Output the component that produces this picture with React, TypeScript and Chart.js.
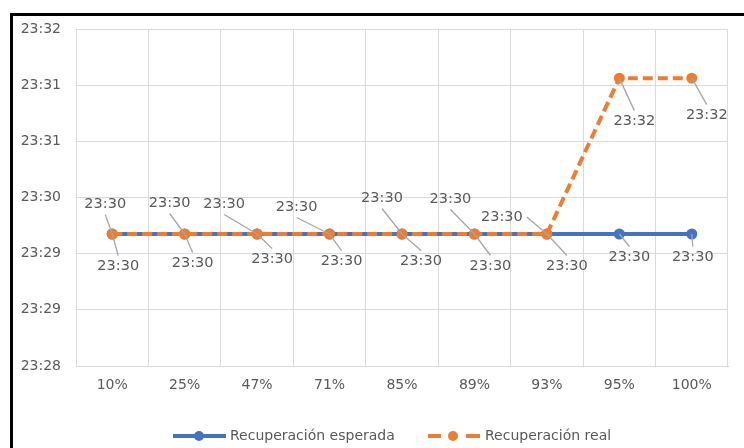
import React, { useEffect, useRef } from 'react';
import { Chart, registerables } from 'chart.js';

Chart.register(...registerables);

// ---------- data ----------
const categories = ['10%', '25%', '47%', '71%', '85%', '89%', '93%', '95%', '100%'];
const expectedTimes = ['23:29:54', '23:29:54', '23:29:54', '23:29:54', '23:29:54', '23:29:54', '23:29:54', '23:29:54', '23:29:54'];
const actualTimes = ['23:29:54', '23:29:54', '23:29:54', '23:29:54', '23:29:54', '23:29:54', '23:29:54', '23:31:45', '23:31:45'];
const yTickLabels = ['23:28', '23:29', '23:29', '23:30', '23:31', '23:31', '23:32'];
const yStartTime = '23:28:20';
const yStepSeconds = 40;
const seriesNames = ['Recuperación esperada', 'Recuperación real'];

// ---------- helpers ----------
const toSec = (s: string) => {
  const [h, m, sec] = s.split(':').map(Number);
  return h * 3600 + m * 60 + (sec || 0);
};
const fmtTime = (v: number) => {
  const mins = Math.round(v / 60);
  const h = Math.floor(mins / 60) % 24;
  const m = mins % 60;
  return `${h}:${String(m).padStart(2, '0')}`;
};

const FONT = '"DejaVu Sans", "Open Sans", sans-serif';
const TEXT_COLOR = '#595959';
const BLUE = '#4472C4';
const ORANGE = '#ED7D31';

// label offsets (style/position config, pixels relative to the point)
const labelOffsets: Record<number, [number, number][]> = {
  0: [[-7, -30], [-15, -31], [-33, -30], [-33, -27], [-20, -36], [-24, -35], [-45, -17], [15, 43], [15, 37]],
  1: [[6, 32], [8, 29], [15, 25], [12, 27], [19, 27], [16, 32], [20, 32], [10, 23], [1, 23]],
};

const dataLabelPlugin = {
  id: 'excelDataLabels',
  afterDatasetsDraw(chart: any) {
    const ctx = chart.ctx;
    ctx.save();
    ctx.font = `14.5px ${FONT}`;
    ctx.textAlign = 'center';
    ctx.textBaseline = 'middle';
    chart.data.datasets.forEach((ds: any, di: number) => {
      const meta = chart.getDatasetMeta(di);
      const offs = labelOffsets[di];
      meta.data.forEach((pt: any, i: number) => {
        const [dx, dy] = offs[i];
        const text = fmtTime(ds.data[i]);
        const cx = pt.x + dx;
        const cy = pt.y + dy;
        const w = ctx.measureText(text).width;
        const h = 13;
        let ax: number, ay: number;
        if (Math.abs(dy) >= Math.abs(dx) * 0.6) {
          ax = cx;
          ay = cy + (dy < 0 ? h / 2 + 4 : -(h / 2 + 4));
        } else {
          ax = cx + (dx < 0 ? w / 2 + 4 : -(w / 2 + 4));
          ay = cy;
        }
        const dist = Math.hypot(pt.x - ax, pt.y - ay);
        if (dist > 4) {
          ctx.strokeStyle = '#a6a6a6';
          ctx.lineWidth = 1.3;
          ctx.beginPath();
          ctx.moveTo(ax, ay);
          ctx.lineTo(pt.x, pt.y);
          ctx.stroke();
        }
        ctx.fillStyle = TEXT_COLOR;
        ctx.fillText(text, cx, cy);
      });
    });
    ctx.restore();
  },
};

const legendPlugin = {
  id: 'excelLegend',
  afterDraw(chart: any) {
    const ctx = chart.ctx;
    const y = 436;
    ctx.save();
    // blue
    ctx.strokeStyle = BLUE;
    ctx.lineWidth = 4;
    ctx.beginPath();
    ctx.moveTo(173, y);
    ctx.lineTo(226, y);
    ctx.stroke();
    ctx.fillStyle = BLUE;
    ctx.beginPath();
    ctx.arc(199, y, 5, 0, Math.PI * 2);
    ctx.fill();
    // orange
    ctx.strokeStyle = ORANGE;
    ctx.beginPath();
    ctx.moveTo(428, y);
    ctx.lineTo(441, y);
    ctx.moveTo(466, y);
    ctx.lineTo(480, y);
    ctx.stroke();
    ctx.fillStyle = ORANGE;
    ctx.beginPath();
    ctx.arc(453, y, 5, 0, Math.PI * 2);
    ctx.fill();
    ctx.font = `14px ${FONT}`;
    ctx.fillStyle = TEXT_COLOR;
    ctx.textAlign = 'left';
    ctx.textBaseline = 'middle';
    ctx.fillText(seriesNames[0], 230, y);
    ctx.fillText(seriesNames[1], 485, y);
    ctx.restore();
  },
};

export default function App() {
  const ref = useRef<HTMLCanvasElement | null>(null);

  useEffect(() => {
    if (!ref.current) return;
    const yMin = toSec(yStartTime);
    const yMax = yMin + yStepSeconds * (yTickLabels.length - 1);
    const chart = new Chart(ref.current, {
      type: 'line',
      data: {
        labels: categories,
        datasets: [
          {
            label: seriesNames[1],
            data: actualTimes.map(toSec),
            borderColor: ORANGE,
            backgroundColor: ORANGE,
            borderWidth: 4,
            borderDash: [10, 5],
            pointRadius: 5.5,
            pointBorderWidth: 0,
            pointBackgroundColor: ORANGE,
            tension: 0,
            order: 0,
          },
          {
            label: seriesNames[0],
            data: expectedTimes.map(toSec),
            borderColor: BLUE,
            backgroundColor: BLUE,
            borderWidth: 4,
            pointRadius: 5.5,
            pointBorderWidth: 0,
            pointBackgroundColor: BLUE,
            tension: 0,
            order: 1,
          },
        ],
      },
      options: {
        responsive: false,
        animation: false,
        layout: { padding: { top: 29, right: 16, bottom: 0, left: 0 } },
        plugins: {
          legend: { display: false },
          tooltip: { enabled: false },
        },
        scales: {
          x: {
            offset: true,
            grid: { offset: true, color: '#d9d9d9', lineWidth: 1, drawTicks: false },
            border: { display: true, color: '#d9d9d9' },
            ticks: { color: TEXT_COLOR, font: { family: FONT, size: 14 }, padding: 11 },
            afterFit: (s: any) => { s.height = 82; },
          },
          y: {
            min: yMin,
            max: yMax,
            grid: { color: '#d9d9d9', lineWidth: 1, drawTicks: false },
            border: { display: true, color: '#d9d9d9' },
            ticks: {
              stepSize: yStepSeconds,
              color: TEXT_COLOR,
              font: { family: FONT, size: 14 },
              padding: 15,
              callback: (_v: any, i: number) => yTickLabels[i],
            },
            afterFit: (s: any) => { s.width = 76; },
          },
        },
      },
      plugins: [dataLabelPlugin, legendPlugin],
    });
    return () => chart.destroy();
  }, []);

  return (
    <div style={{ position: 'fixed', left: 0, top: 0, width: 744, height: 448, overflow: 'hidden', background: '#fff' }}>
      <canvas ref={ref} width={744} height={448} style={{ display: 'block', width: 744, height: 448 }} />
      <div
        style={{
          position: 'absolute',
          left: 10,
          top: 13,
          width: 800,
          height: 500,
          borderTop: '3px solid #000',
          borderLeft: '3px solid #000',
          pointerEvents: 'none',
        }}
      />
    </div>
  );
}
